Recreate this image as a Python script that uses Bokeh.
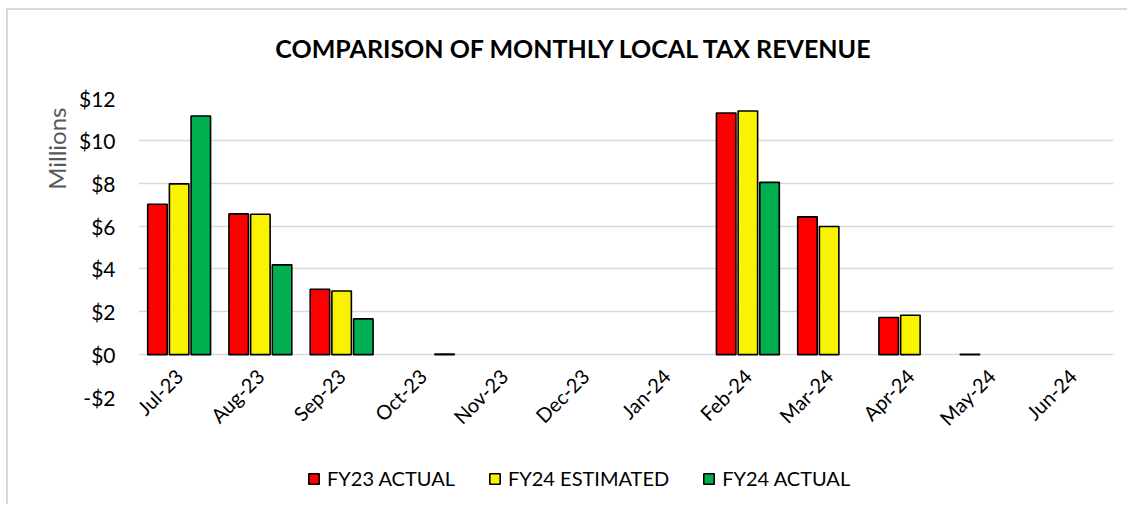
import math
from bokeh.plotting import figure
from bokeh.layouts import column
from bokeh.models import (ColumnDataSource, FactorRange, Range1d, Legend, LegendItem, Title, Label,
                          FixedTicker, CustomJSTickFormatter)
from bokeh.transform import dodge
from bokeh.embed import file_html
from bokeh.resources import INLINE

months = ["Jul-23", "Aug-23", "Sep-23", "Oct-23", "Nov-23", "Dec-23",
          "Jan-24", "Feb-24", "Mar-24", "Apr-24", "May-24", "Jun-24"]
fy23_actual = [7.02, 6.57, 3.05, None, None, None, None, 11.28, 6.43, 1.73, 0.02, None]
fy24_estimated = [7.97, 6.55, 2.97, None, None, None, None, 11.37, 5.98, 1.84, None, None]
fy24_actual = [11.14, 4.19, 1.67, 0.03, None, None, None, 8.04, None, None, None, None]
y_ticks = [-2, 0, 2, 4, 6, 8, 10, 12]
series_names = ["FY23 ACTUAL", "FY24 ESTIMATED", "FY24 ACTUAL"]
series_colors = ["#FF0000", "#F9F200", "#00B050"]
title_text = "COMPARISON OF MONTHLY LOCAL TAX REVENUE"

FONT = "Lato"
W = 1119


def clean(vals):
    return [float("nan") if v is None else v for v in vals]


def strip(h):
    f = figure(width=W, height=h, output_backend="svg", toolbar_location=None,
               x_range=Range1d(0, 1), y_range=Range1d(0, 1),
               min_border_left=0, min_border_right=0, min_border_top=0, min_border_bottom=0)
    f.axis.visible = False
    f.grid.visible = False
    f.outline_line_color = None
    f.border_fill_color = "white"
    f.background_fill_color = "white"
    return f


# ---- title strip
ts = strip(75)
ts.add_layout(Label(x=436, y=38, x_units="screen", y_units="screen", text=title_text,
                    text_font=FONT, text_font_style="bold", text_font_size="25px",
                    text_align="center", text_baseline="middle", text_color="#000000"))

# ---- main chart
src = ColumnDataSource(dict(month=months, a=clean(fy23_actual), b=clean(fy24_estimated),
                            c=clean(fy24_actual)))

p = figure(width=W, height=360, output_backend="svg", toolbar_location=None,
           x_range=FactorRange(*months, range_padding=0), y_range=Range1d(-2, 12),
           min_border_left=130, min_border_right=14, min_border_top=12, min_border_bottom=48)
p.x_range.factor_padding = 0
p.outline_line_color = None
p.background_fill_color = "white"
p.border_fill_color = "white"

for key, off, col in zip(["a", "b", "c"], [-0.267, 0.0, 0.267], series_colors):
    p.vbar(x=dodge("month", off, range=p.x_range), top=key, bottom=0, width=0.24,
           source=src, fill_color=col, line_color="black", line_width=1.6)

p.yaxis.ticker = FixedTicker(ticks=y_ticks)
p.yaxis.formatter = CustomJSTickFormatter(code="return (tick < 0 ? '-$' : '$') + Math.abs(tick);")
p.yaxis.axis_line_color = None
p.yaxis.major_tick_line_color = None
p.yaxis.minor_tick_line_color = None
p.yaxis.major_tick_out = 0
p.yaxis.major_tick_in = 0
p.yaxis.minor_tick_out = 0
p.yaxis.major_label_standoff = 23
p.yaxis.major_label_text_font = FONT
p.yaxis.major_label_text_font_size = "21px"
p.yaxis.major_label_text_color = "#000000"

p.xaxis.axis_line_color = None
p.xaxis.major_tick_line_color = None
p.xaxis.major_tick_out = 0
p.xaxis.major_tick_in = 0
p.xaxis.major_label_orientation = math.pi / 4
p.xaxis.major_label_standoff = -25
p.xaxis.major_label_text_font = FONT
p.xaxis.major_label_text_font_size = "20px"
p.xaxis.major_label_text_color = "#000000"

p.xgrid.grid_line_color = None
p.ygrid.grid_line_color = "#D9D9D9"
p.ygrid.grid_line_width = 1.5
p.ygrid.ticker = FixedTicker(ticks=y_ticks)

p.add_layout(Title(text="Millions", align="right", offset=10, text_font=FONT,
                   text_font_size="24px", text_font_style="normal", text_color="#595959",
                   standoff=10), "left")

# ---- legend strip
lg = strip(59)
dummy = ColumnDataSource(dict(x=[float("nan")], top=[float("nan")]))
dummies = []
for col in series_colors:
    dummies.append(lg.vbar(x="x", top="top", width=0.5, source=dummy, fill_color=col,
                           line_color="black", line_width=1.6))
legend = Legend(items=[LegendItem(label=n, renderers=[r]) for n, r in zip(series_names, dummies)],
                orientation="horizontal", location=(169, 14), glyph_width=13, glyph_height=13,
                label_standoff=7, spacing=33, padding=4, label_height=20, margin=0,
                label_text_font=FONT, label_text_font_size="20px", label_text_color="#000000",
                background_fill_alpha=0, border_line_color=None)
lg.add_layout(legend)

layout = column(ts, p, lg, spacing=0)
layout.styles = {"border-top": "2px solid #D9D9D9", "border-left": "2px solid #D9D9D9",
                 "margin-left": "6px", "margin-top": "8px"}

open("out.html", "w").write(file_html(layout, INLINE))
